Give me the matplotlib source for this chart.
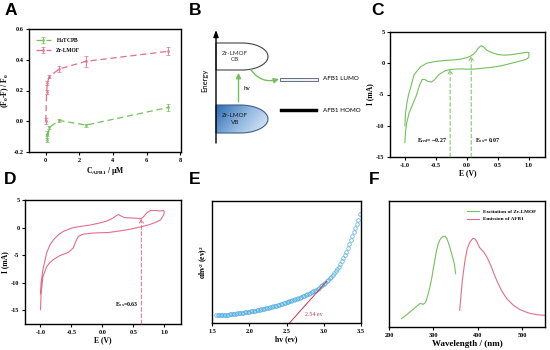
import numpy as np
import matplotlib
matplotlib.use('Agg')
import matplotlib.pyplot as plt
from matplotlib.patches import Polygon, Rectangle
from matplotlib.colors import LinearSegmentedColormap

# ---- data ----
# A: quenching vs AFB1 concentration
conc_h4 = [0.05, 0.1, 0.2, 0.8, 2.4, 7.3]
quench_h4 = [-0.08, -0.12, -0.04, 0.005, -0.025, 0.09]
err_h4 = [0.015, 0.012, 0.01, 0.012, 0.01, 0.025]
conc_zr = [0.0, 0.05, 0.1, 0.2, 0.8, 2.4, 7.3]
quench_zr = [0.0, 0.19, 0.25, 0.29, 0.34, 0.39, 0.455]
err_zr = [0.02, 0.012, 0.012, 0.01, 0.02, 0.035, 0.025]

# C: CV of Zr-LMOF
cv_c_e = [-1.0, -0.99, -0.97, -0.94, -0.9, -0.85, -0.75, -0.65, -0.5, -0.35, -0.25, -0.1,
          0.0, 0.05, 0.1, 0.15, 0.19, 0.23, 0.27, 0.32, 0.4, 0.5, 0.6, 0.7, 0.8, 0.9, 0.97,
          1.0, 1.0, 0.97, 0.9, 0.8, 0.7, 0.6, 0.5, 0.4, 0.3, 0.2, 0.1, 0.0, -0.1, -0.2,
          -0.27, -0.35, -0.45, -0.52, -0.57, -0.63, -0.68, -0.72, -0.76, -0.82, -0.88,
          -0.93, -0.97, -0.99, -1.0]
cv_c_i = [-10.0, -8.0, -6.5, -5.0, -3.6, -1.8, -0.6, 0.0, 0.3, 0.45, 0.5, 0.65,
          0.9, 1.1, 1.4, 1.9, 2.5, 2.8, 2.6, 2.1, 1.7, 1.4, 1.3, 1.35, 1.5, 1.65, 1.75,
          1.7, 1.0, 0.7, 0.45, 0.2, -0.05, -0.3, -0.5, -0.65, -0.75, -0.85, -0.95, -0.95, -0.9, -0.95,
          -1.0, -1.2, -1.8, -2.6, -3.0, -2.9, -2.6, -2.6, -3.4, -5.3, -6.7,
          -7.9, -9.5, -11.0, -12.7]
e_red_c, i_red_c = -0.27, -1.0
e_ox_c, i_ox_c = 0.07, 1.15

# D: CV of AFB1
cv_d_e = [-1.0, -0.99, -0.96, -0.9, -0.85, -0.79, -0.7, -0.63, -0.5, -0.36, -0.2, -0.04,
          0.05, 0.12, 0.18, 0.23, 0.26, 0.3, 0.36, 0.45, 0.55, 0.62, 0.66, 0.72, 0.78,
          0.85, 0.93, 0.99, 1.0, 0.99, 0.94, 0.85, 0.75, 0.61, 0.45, 0.29, 0.1, -0.05,
          -0.15, -0.31, -0.39, -0.44, -0.47, -0.55, -0.62, -0.69, -0.79, -0.85, -0.9,
          -0.96, -0.99, -1.0]
cv_d_i = [-12.0, -10.0, -7.6, -4.6, -3.2, -2.2, -1.2, -0.7, -0.1, 0.2, 0.45, 0.84,
          1.1, 1.4, 1.8, 2.2, 2.35, 2.1, 1.8, 1.75, 1.7, 1.6, 1.9, 2.7, 3.1,
          3.1, 3.0, 3.1, 2.8, 2.3, 1.4, 0.9, 0.5, 0.1, -0.3, -0.6, -0.9, -0.95,
          -1.0, -1.2, -1.6, -2.8, -3.7, -4.5, -4.8, -5.1, -5.8, -6.4, -7.1,
          -8.9, -12.0, -14.9]
e_ox_d, i_ox_d = 0.63, 1.6

# E: Tauc plot
hv = [1.56, 1.58, 1.60, 1.62, 1.64, 1.66, 1.68, 1.70, 1.72, 1.74,
      1.76, 1.78, 1.80, 1.82, 1.84, 1.86, 1.88, 1.90, 1.92, 1.94,
      1.96, 1.98, 2.00, 2.02, 2.04, 2.06, 2.08, 2.10, 2.12, 2.14,
      2.16, 2.18, 2.20, 2.22, 2.24, 2.26, 2.28, 2.30, 2.32, 2.34,
      2.36, 2.38, 2.40, 2.42, 2.44, 2.46, 2.48, 2.50, 2.52, 2.54,
      2.56, 2.58, 2.60, 2.62, 2.64, 2.66, 2.68, 2.70, 2.72, 2.74,
      2.76, 2.78, 2.80, 2.82, 2.84, 2.86, 2.88, 2.90, 2.92, 2.94,
      2.96, 2.98, 3.00, 3.02, 3.04, 3.06, 3.08, 3.10, 3.12, 3.14,
      3.16, 3.18, 3.20, 3.22, 3.24, 3.26, 3.28, 3.30, 3.32, 3.34,
      3.36, 3.38, 3.40, 3.42, 3.44, 3.46, 3.48]
ahv2 = [23, 23.2, 23.5, 23.8, 24, 24.3, 24.7, 25, 25.5, 26,
        26.5, 27, 28, 28.5, 29, 29.8, 30.4, 31, 31.6, 32.2,
        32.8, 33.4, 34, 34.8, 35.6, 36.4, 37.2, 38, 39, 40,
        41, 42, 43, 44.2, 45.4, 46.6, 47.8, 49, 50.2, 51.4,
        52.6, 53.8, 55, 56.4, 57.8, 59.2, 60.6, 62, 63.6, 65.2,
        66.8, 68.4, 70, 71.6, 73.2, 74.8, 76.4, 78, 80, 82,
        84, 86, 88, 90.4, 92.8, 95.2, 97.6, 100, 103.4, 106.8,
        110.2, 113.6, 117, 121.5, 126, 130.5, 135, 140, 145, 150,
        156, 162, 168, 177, 186, 195, 205, 215, 227, 239,
        251, 263, 275, 287, 299, 312, 330]
tangent_hv = [2.54, 3.04]
tangent_y = [0, 126]

# F: spectra
ex_wl = [228, 238, 247, 256, 265, 269, 273, 277, 281, 284, 288, 292, 296, 299, 303,
         307, 311, 314, 318, 322, 326, 330, 333, 337, 341, 344, 347, 350]
ex_int = [25, 35, 45, 55, 65, 70, 70, 68, 72, 80, 98, 120, 145, 170, 200,
          230, 250, 260, 268, 272, 272, 266, 255, 238, 220, 205, 190, 160]
em_wl = [359, 361, 365, 371, 376, 382, 389, 393, 398, 404, 413, 421, 429, 436, 444,
         453, 465, 480, 495, 514, 532, 551]
em_int = [50, 80, 140, 200, 235, 255, 266, 265, 255, 238, 225, 208, 185, 160, 135,
          110, 85, 65, 52, 42, 37, 35]

GREEN = '#74c05c'
PINK = '#e26e8b'
BLUE = '#45a8dd'
RED = '#c8354f'

plt.rcParams['font.family'] = ['Liberation Serif', 'DejaVu Serif']
plt.rcParams['font.weight'] = 'bold'
plt.rcParams['axes.labelweight'] = 'bold'
plt.rcParams['mathtext.fontset'] = 'custom'
plt.rcParams['mathtext.rm'] = 'Liberation Serif:bold'
plt.rcParams['mathtext.it'] = 'Liberation Serif:italic:bold'
plt.rcParams['mathtext.bf'] = 'Liberation Serif:bold'
plt.rcParams['axes.linewidth'] = 1.0
plt.rcParams['xtick.labelsize'] = 4.5
plt.rcParams['ytick.labelsize'] = 4.5
plt.rcParams['xtick.major.size'] = 2
plt.rcParams['ytick.major.size'] = 2
plt.rcParams['xtick.major.width'] = 0.8
plt.rcParams['ytick.major.width'] = 0.8
plt.rcParams['xtick.major.pad'] = 2
plt.rcParams['ytick.major.pad'] = 2
plt.rcParams['axes.labelsize'] = 5.5
plt.rcParams['axes.labelpad'] = 1.5
plt.rcParams['axes.unicode_minus'] = False

W, H = 550, 350
fig = plt.figure(figsize=(5.5, 3.5), dpi=100)


def box(l, t, r, b):
    return [l / W, 1 - b / H, (r - l) / W, (b - t) / H]


# ---- A ----
axA = fig.add_axes(box(29, 29, 181, 152))
for x, y, e, c, lab in [(conc_h4, quench_h4, err_h4, GREEN, 'H$_4$TCPB'),
                        (conc_zr, quench_zr, err_zr, PINK, 'Zr-LMOF')]:
    axA.errorbar(x, y, yerr=e, fmt='o', color=c, ms=1.5, mfc='none', mew=0.5,
                 elinewidth=0.6, capsize=1.2, capthick=0.6, ls=(0, (5, 3)), lw=0.9,
                 label=lab)
axA.set_xlim(-1.0, 8.05)
axA.set_ylim(-0.2, 0.6)
axA.set_xticks([0, 2, 4, 6, 8])
axA.set_yticks([-0.2, 0.0, 0.2, 0.4, 0.6])
axA.set_yticklabels(['-0.2', '0.0', '0.2', '0.4', '0.6'])
axA.set_xlabel('C$_{\\mathrm{AFB1}}$ / \u03bcM')
axA.set_ylabel('(F$_0$-F) / F$_0$')
axA.legend(loc='upper left', frameon=False, fontsize=4, handlelength=2.8,
           borderaxespad=0.8, labelspacing=0.6)

# ---- C ----
axC = fig.add_axes(box(390, 32, 545, 157))
axC.plot(cv_c_e, cv_c_i, color=GREEN, lw=0.8)
arr = dict(arrowstyle='->,head_length=0.25,head_width=0.15', lw=0.7,
           ls=(0, (4, 2.5)), shrinkA=0, shrinkB=0)
axC.annotate('', xy=(e_red_c, i_red_c), xytext=(e_red_c, -15),
             arrowprops=dict(color=GREEN, **arr))
axC.annotate('', xy=(e_ox_c, i_ox_c), xytext=(e_ox_c, -15),
             arrowprops=dict(color=GREEN, **arr))
axC.text(-0.8, -12.4, 'E$_{red}$= \u2212%.2f' % abs(e_red_c), fontsize=4.2, va='center')
axC.text(0.13, -12.4, 'E$_{ox}$= %.2f' % e_ox_c, fontsize=4.2, va='center')
axC.set_xlim(-1.24, 1.26)
axC.set_ylim(-15, 5)
axC.set_xticks([-1.0, -0.5, 0.0, 0.5, 1.0])
axC.set_xticklabels(['-1.0', '-0.5', '0.0', '0.5', '1.0'])
axC.set_yticks([5, 0, -5, -10, -15])
axC.set_xlabel('E (V)')
axC.set_ylabel('I (mA)')

# ---- D ----
axD = fig.add_axes(box(25, 200, 181, 324))
axD.plot(cv_d_e, cv_d_i, color=PINK, lw=0.8)
axD.annotate('', xy=(e_ox_d, i_ox_d), xytext=(e_ox_d, -17.5),
             arrowprops=dict(color=PINK, **arr))
axD.text(0.2, -14.0, 'E$_{ox}$=%.2f' % e_ox_d, fontsize=4.2, va='center')
axD.set_xlim(-1.25, 1.27)
axD.set_ylim(-17.5, 5)
axD.set_xticks([-1.0, -0.5, 0.0, 0.5, 1.0])
axD.set_xticklabels(['-1.0', '-0.5', '0.0', '0.5', '1.0'])
axD.set_yticks([5, 0, -5, -10, -15])
axD.set_xlabel('E (V)')
axD.set_ylabel('I (mA)')

# ---- E ----
axE = fig.add_axes(box(212, 201, 361, 323))
axE.plot(hv, ahv2, 'o', ms=2.6, mfc='none', mec=BLUE, mew=0.6, alpha=0.8)
axE.plot(tangent_hv, tangent_y, color=RED, lw=0.7)
axE.text(2.75, 22, '%.2f ev' % tangent_hv[0], color=RED, fontsize=4.3, fontweight='normal')
axE.set_xlim(1.5, 3.5)
axE.set_ylim(0, 368)
axE.set_xticks([1.5, 2.0, 2.5, 3.0, 3.5])
axE.set_yticks([])
axE.set_xlabel('hv (ev)')
axE.set_ylabel('\u03b1hv$^2$ (ev)$^2$')

# ---- F ----
axF = fig.add_axes(box(389, 201, 545, 327))
axF.plot(ex_wl, ex_int, color=GREEN, lw=0.8, label='Excitation of Zr-LMOF')
axF.plot(em_wl, em_int, color=PINK, lw=0.8, label='Emission of AFB1')
axF.set_xlim(200, 551)
axF.set_ylim(0, 378)
axF.set_xticks([200, 300, 400, 500])
axF.set_yticks([])
axF.set_xlabel('Wavelength / (nm)', fontsize=6.5)
axF.legend(loc='upper right', frameon=False, fontsize=3.8, handlelength=2.2,
           borderaxespad=1.2, labelspacing=0.5)

# ---- B (scheme) + panel letters, drawn in figure pixel coordinates ----
ov = fig.add_axes([0, 0, 1, 1])
ov.set_xlim(0, W)
ov.set_ylim(H, 0)
ov.axis('off')
ov.patch.set_visible(False)


def pill(x0, y0, x1, y1, xs):
    a = x1 - xs
    b = (y1 - y0) / 2.0
    cy = (y0 + y1) / 2.0
    th = np.linspace(-np.pi / 2, np.pi / 2, 60)
    arc = np.column_stack([xs + a * np.cos(th), cy + b * np.sin(th)])
    return np.vstack([[x0, y0], arc, [x0, y1]])


sans = ['Lato', 'DejaVu Sans']
cb = Polygon(pill(216, 43, 268, 70, 242), closed=True, fc='white', ec='#444444', lw=0.8)
ov.add_patch(cb)
ov.text(235, 56.5, 'Zr-LMOF\nCB', ha='center', va='center', fontsize=4.5,
        family=sans, fontweight='normal', color='#333333', linespacing=1.3)

vb = Polygon(pill(216, 105, 268, 133, 240), closed=True, fc='none', ec='#3f5f85', lw=0.8)
ov.add_patch(vb)
gx, gy = np.meshgrid(np.linspace(0, 1, 60), np.linspace(0, 1, 30))
cmap = LinearSegmentedColormap.from_list('vb', ['#2f6cb3', '#8fb6e0', '#e3eef9'])
im = ov.imshow(0.7 * gx + 0.3 * gy, extent=(216, 268, 133, 105), cmap=cmap,
               aspect='auto', zorder=1)
im.set_clip_path(vb)
vb.set_zorder(2)
ov.text(235, 119, 'Zr-LMOF\nVB', ha='center', va='center', fontsize=4.5,
        family=sans, fontweight='normal', color='#1a1a1a', linespacing=1.3, zorder=3)

ov.annotate('', xy=(216, 30), xytext=(216, 143),
            arrowprops=dict(arrowstyle='-|>,head_length=0.4,head_width=0.15',
                            color='black', lw=1.0, shrinkA=0, shrinkB=0))
ov.text(205, 80, 'Energy', rotation=90, ha='center', va='center', fontsize=5.5,
        family=sans, fontweight='normal')

ov.annotate('', xy=(238.5, 73), xytext=(238.5, 102),
            arrowprops=dict(arrowstyle='-|>,head_length=0.3,head_width=0.15',
                            color=GREEN, lw=1.0, shrinkA=0, shrinkB=0))
ov.text(243, 88, 'hv', fontsize=4.5, va='center', family=sans, fontweight='normal')
ov.annotate('', xy=(279, 79), xytext=(251, 70),
            arrowprops=dict(arrowstyle='-|>,head_length=0.3,head_width=0.15',
                            color=GREEN, lw=1.0, shrinkA=0, shrinkB=0,
                            connectionstyle='arc3,rad=0.35'))

ov.add_patch(Rectangle((280, 77.5), 38, 3, fc='#e9f0f8', ec='#555b66', lw=0.6))
ov.text(323, 79, 'AFB1 LUMO', fontsize=4.5, va='center', family=sans, fontweight='normal')
ov.add_patch(Rectangle((280, 108.5), 38, 3, fc='black', ec='black', lw=0.3))
ov.text(323, 110, 'AFB1 HOMO', fontsize=4.5, va='center', family=sans, fontweight='normal')

letters = [('A', 5, 3), ('B', 189, 3), ('C', 371, 3),
           ('D', 4, 172), ('E', 189, 172), ('F', 369, 172)]
for s, x, y in letters:
    ov.text(x, y, s, fontsize=12.5, fontweight='bold', va='top', ha='left',
            family=['Liberation Sans', 'DejaVu Sans'])

fig.savefig('out.png', dpi=100)
